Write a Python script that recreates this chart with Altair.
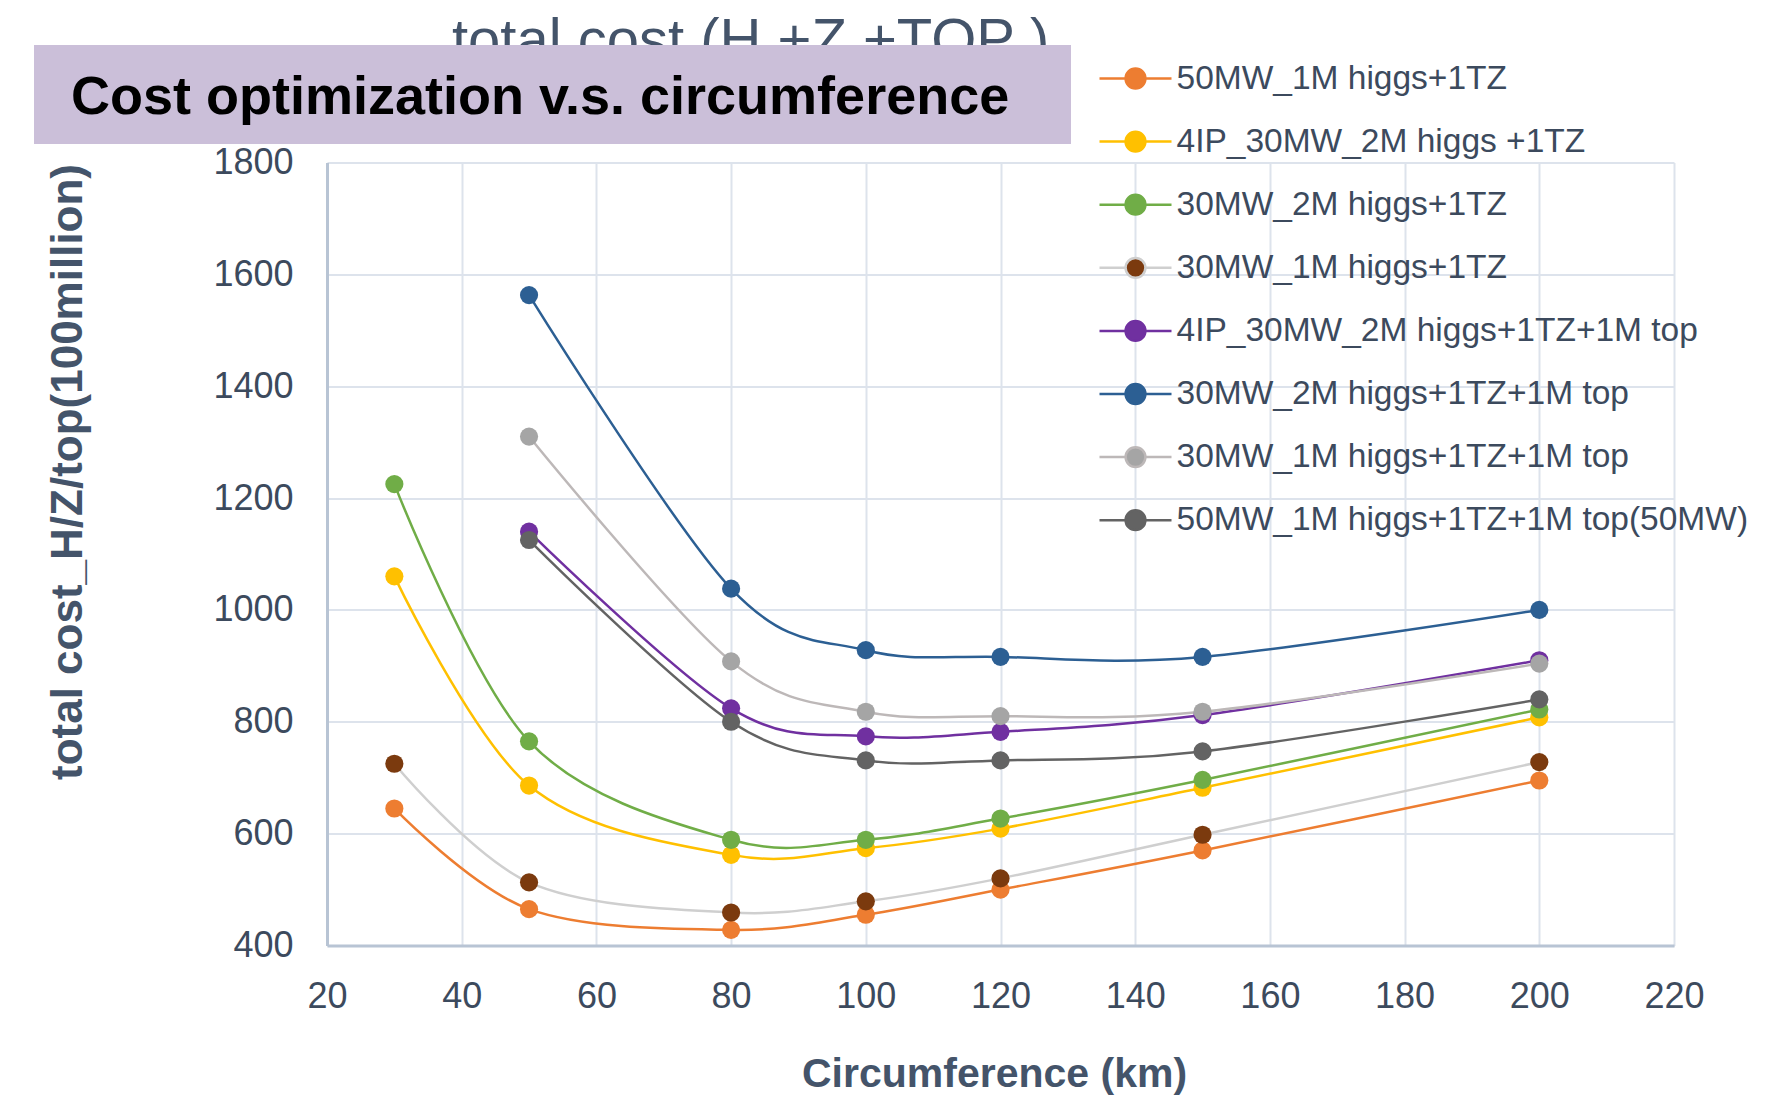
import altair as alt
import pandas as pd

# ---------------- data ----------------
circumference = [30, 50, 80, 100, 120, 150, 200]
series_names = [
    "50MW_1M higgs+1TZ",
    "4IP_30MW_2M higgs +1TZ",
    "30MW_2M higgs+1TZ",
    "30MW_1M higgs+1TZ",
    "4IP_30MW_2M higgs+1TZ+1M top",
    "30MW_2M higgs+1TZ+1M top",
    "30MW_1M higgs+1TZ+1M top",
    "50MW_1M higgs+1TZ+1M top(50MW)",
]
s1 = [645, 465, 428, 455, 500, 570, 695]
s2 = [1060, 686, 562, 574, 609, 682, 808]
s3 = [1225, 765, 589, 589, 627, 696, 822]
s4 = [725, 513, 459, 479, 520, 598, 728]
s5 = [None, 1140, 824, 774, 782, 812, 910]
s6 = [None, 1563, 1038, 928, 916, 916, 1000]
s7 = [None, 1310, 908, 818, 810, 818, 904]
s8 = [None, 1125, 800, 731, 731, 747, 840]
all_series = [s1, s2, s3, s4, s5, s6, s7, s8]

line_colors = ["#ED7D31", "#FFC000", "#70AD47", "#CFCFCF",
               "#7030A0", "#2C5F93", "#BDB8B8", "#636363"]
marker_colors = ["#ED7D31", "#FFC000", "#70AD47", "#7B3A0E",
                 "#7030A0", "#2C5F93", "#A5A5A5", "#636363"]

x_ticks = [20, 40, 60, 80, 100, 120, 140, 160, 180, 200, 220]
y_ticks = [400, 600, 800, 1000, 1200, 1400, 1600, 1800]

chart_title = "total cost (H +Z +TOP )"
banner_text = "Cost optimization v.s. circumference"
x_title = "Circumference (km)"
y_title = "total cost_H/Z/top(100million)"

rows = []
for name, vals in zip(series_names, all_series):
    for xv, yv in zip(circumference, vals):
        if yv is not None:
            rows.append({"series": name, "circ": xv, "cost": yv})
df = pd.DataFrame(rows)

W, H = 1347, 783
LABEL_COLOR = "#3C4A5D"
FONT = "Liberation Sans"

x_enc = alt.X("circ:Q", scale=alt.Scale(domain=[20, 220], nice=False, zero=False),
              axis=alt.Axis(values=x_ticks, format="d", title=x_title, grid=True, ticks=False,
                            labelFont=FONT, labelFontSize=36, labelColor=LABEL_COLOR,
                            labelPadding=34, labelFlush=False, labelOverlap=False,
                            domainColor="#B8C4D4", domainWidth=3,
                            gridColor="#DDE3EC", gridWidth=2,
                            titleFont=FONT, titleFontSize=41, titleFontWeight="bold",
                            titleColor="#44546A", titleX=667, titleY=129,
                            titleAlign="center", titleBaseline="middle"))
y_enc = alt.Y("cost:Q", scale=alt.Scale(domain=[400, 1800], nice=False, zero=False),
              axis=alt.Axis(values=y_ticks, format="d", title=y_title, grid=True, ticks=False,
                            labelFont=FONT, labelFontSize=36, labelColor=LABEL_COLOR,
                            labelPadding=34, labelFlush=False, labelOverlap=False,
                            domainColor="#B8C4D4", domainWidth=3,
                            gridColor="#DDE3EC", gridWidth=2,
                            titleFont=FONT, titleFontSize=44, titleFontWeight="bold",
                            titleColor="#44546A", titleX=-259, titleY=309,
                            titleAlign="center", titleBaseline="middle", titleAngle=270))

legend_path = ("M-2,0L-0.55,0M0.55,0L2,0"
               "M-0.55,0A0.55,0.55,0,1,0,0.55,0A0.55,0.55,0,1,0,-0.55,0Z")
legend_props = dict(
    title=None, orient="none", legendX=789, legendY=-103.5, padding=0,
    symbolType=legend_path, symbolSize=1296, symbolStrokeWidth=2.5,
    labelFont=FONT, labelFontSize=33.5, labelColor=LABEL_COLOR,
    labelOffset=21.5, labelLimit=700, rowPadding=27.1,
)

base = alt.Chart(df)
lines = base.mark_line(interpolate="cardinal", strokeWidth=2.5).encode(
    x=x_enc, y=y_enc,
    stroke=alt.Stroke("series:N", sort=series_names,
                      scale=alt.Scale(domain=series_names, range=line_colors),
                      legend=alt.Legend(**legend_props)),
)
points = base.mark_point(filled=True, size=330, opacity=1).encode(
    x=x_enc, y=y_enc,
    fill=alt.Fill("series:N", sort=series_names,
                  scale=alt.Scale(domain=series_names, range=marker_colors),
                  legend=alt.Legend(**legend_props)),
)

deco = alt.Chart(pd.DataFrame({"title": [chart_title], "banner": [banner_text]}))
title_text = deco.mark_text(font=FONT, fontSize=58, color="#44546A",
                            align="left", baseline="alphabetic").encode(
    text="title:N", x=alt.value(125), y=alt.value(-104))
banner_rect = deco.mark_rect(color="#CBBFD9").encode(
    x=alt.value(-293), x2=alt.value(744), y=alt.value(-117.5), y2=alt.value(-18.5))
banner_label = deco.mark_text(font=FONT, fontSize=54, fontWeight="bold",
                              color="#000000", align="left", baseline="alphabetic").encode(
    text="banner:N", x=alt.value(-256), y=alt.value(-49))

chart = alt.layer(title_text, banner_rect, banner_label, lines, points).properties(
    width=W, height=H,
    autosize=alt.AutoSizeParams(type="none"),
    padding={"left": 319, "top": 154.5, "right": 90, "bottom": 149},
).configure_view(strokeWidth=0).resolve_scale(x="shared", y="shared")

chart.save("out.html", embed_options={"renderer": "svg", "actions": False})
